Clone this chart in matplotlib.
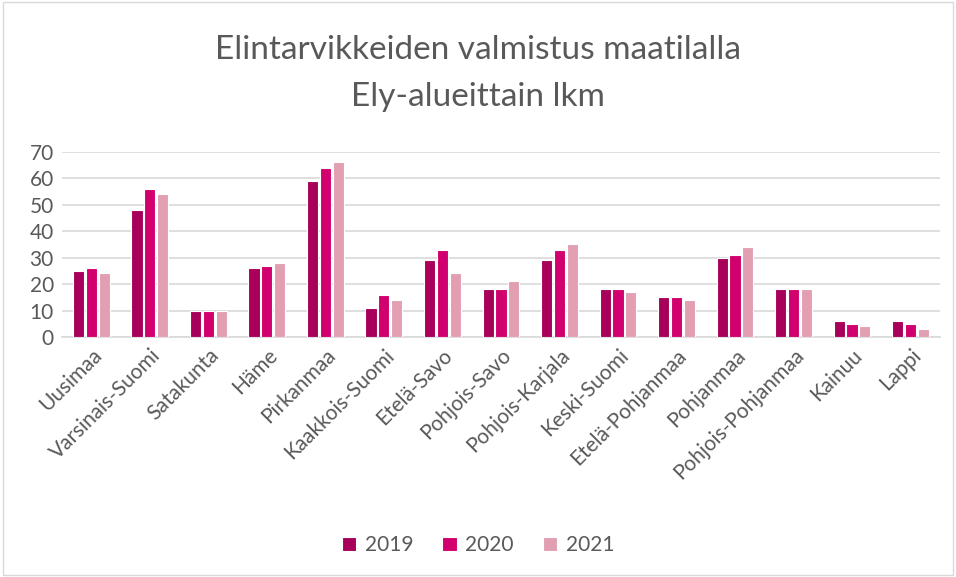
import matplotlib

matplotlib.use("Agg")
import matplotlib.pyplot as plt
import numpy as np
from matplotlib.patches import Rectangle

regions = ["Uusimaa", "Varsinais-Suomi", "Satakunta", "Häme", "Pirkanmaa",
           "Kaakkois-Suomi", "Etelä-Savo", "Pohjois-Savo", "Pohjois-Karjala",
           "Keski-Suomi", "Etelä-Pohjanmaa", "Pohjanmaa", "Pohjois-Pohjanmaa",
           "Kainuu", "Lappi"]
v2019 = [25, 48, 10, 26, 59, 11, 29, 18, 29, 18, 15, 30, 18, 6, 6]
v2020 = [26, 56, 10, 27, 64, 16, 33, 18, 33, 18, 15, 31, 18, 5, 5]
v2021 = [24, 54, 10, 28, 66, 14, 24, 21, 35, 17, 14, 34, 18, 4, 3]

series = [("2019", v2019, "#A8005A"), ("2020", v2020, "#D2006E"), ("2021", v2021, "#E29FB2")]

plt.rcParams["font.family"] = ["Lato", "DejaVu Sans"]
text_color = "#595959"

fig = plt.figure(figsize=(9.56, 5.77), dpi=100)
ax = fig.add_axes([0.065, 0.416, 0.918, 0.321])

x = np.arange(len(regions))
step = 0.22
for i, (name, vals, color) in enumerate(series):
    ax.bar(x + (i - 1) * step, vals, width=0.19, color=color, label=name,
           edgecolor="white", linewidth=0.8, zorder=3)

ax.set_xlim(-0.5, len(regions) - 0.5)
ax.set_ylim(0, 70)
ax.set_yticks(range(0, 71, 10))
ax.yaxis.grid(True, color="#D9D9D9", linewidth=1.2, zorder=0)
ax.set_xticks(x)
ax.set_xticklabels(regions, rotation=45, ha="right", rotation_mode="anchor")
ax.tick_params(axis="both", length=0, labelsize=15, labelcolor=text_color, pad=6)
for s in ["top", "right", "left"]:
    ax.spines[s].set_visible(False)
ax.spines["bottom"].set_color("#D9D9D9")
ax.spines["bottom"].set_linewidth(1.2)

fig.text(0.5, 0.913, "Elintarvikkeiden valmistus maatilalla", ha="center", va="center",
         fontsize=24, color=text_color)
fig.text(0.5, 0.832, "Ely-alueittain lkm", ha="center", va="center",
         fontsize=24, color=text_color)

fig.legend(loc="center", bbox_to_anchor=(0.5, 0.055), ncol=3, frameon=False,
           fontsize=15, labelcolor=text_color, handlelength=0.7, handleheight=0.7,
           columnspacing=1.4, handletextpad=0.4)

fig.patches.append(Rectangle((0.003, 0.003), 0.994, 0.994, transform=fig.transFigure,
                             fill=False, edgecolor="#D9D9D9", linewidth=1))

fig.savefig("out.png", dpi=100)
